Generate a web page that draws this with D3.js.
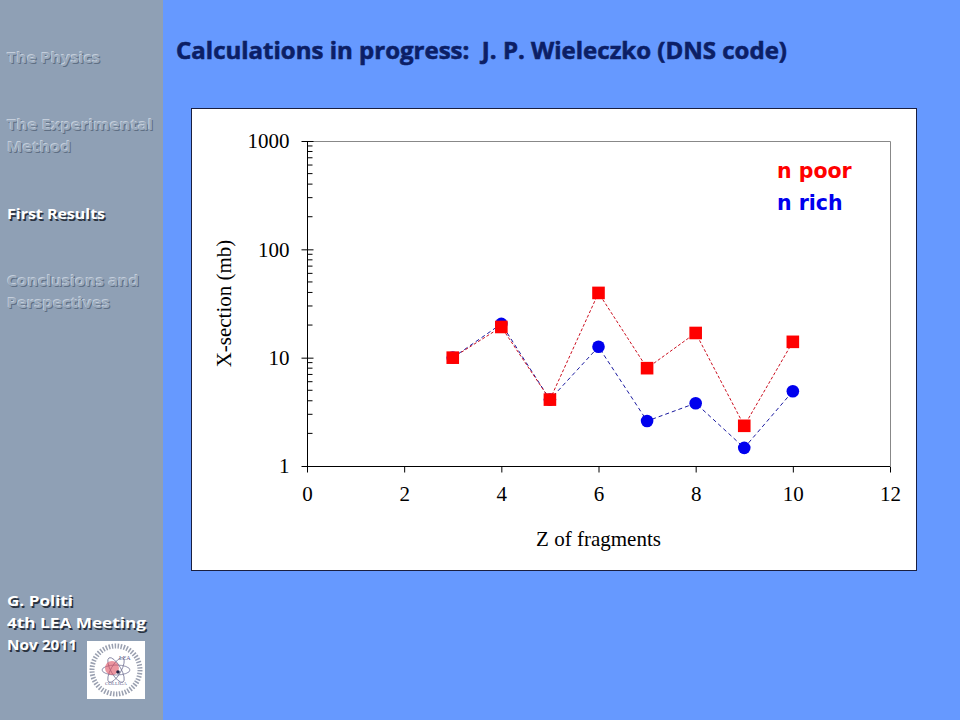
<!DOCTYPE html>
<html>
<head>
<meta charset="utf-8">
<script src="https://cdn.jsdelivr.net/npm/d3@7"></script>
<style>
  html, body { margin: 0; padding: 0; background: #6699ff; }
  svg { display: block; }
  text { white-space: pre; }
</style>
</head>
<body>
<svg id="slide" width="960" height="720"></svg>
<script>
// values
const zValues = [3, 4, 5, 6, 7, 8, 9, 10];
const nPoor = [10, 19.2, 4.1, 39.6, 8.0, 16.9, 2.35, 14.0];
const nRich = [10, 20.5, 4.1, 12.6, 2.6, 3.8, 1.47, 4.9];
const xTicks = [0, 2, 4, 6, 8, 10, 12];
const yTicks = [1, 10, 100, 1000];
const menuItems = [["The Physics"], ["The Experimental", "Method"], ["First Results"], ["Conclusions and", "Perspectives"]];
const footerLines = ["G. Politi", "4th LEA Meeting", "Nov 2011"];

const svg = d3.select("#slide");

// sidebar
svg.append("rect").attr("x", 0).attr("y", 0).attr("width", 163).attr("height", 720).attr("fill", "#8fa0b5");

const menuY = [58, 125, 214, 281];
const menuWidths = [[93], [146, 64], [98], [132, 103]];
const sideFont = (g) => g.attr("font-family", "Open Sans, sans-serif").attr("font-weight", "bold").attr("font-size", 15);

menuItems.forEach((lines, i) => {
  lines.forEach((line, j) => {
    const y = menuY[i] + j * 22 + 5;
    const w = menuWidths[i][j];
    const t = sideFont(svg.append("g"));
    const put = (dx, dy, c) => t.append("text").attr("x", 7 + dx).attr("y", y + dy).attr("fill", c)
      .attr("textLength", w).attr("lengthAdjust", "spacingAndGlyphs").text(line);
    if (i === 2) {
      put(1.5, 1.5, "#2a3340");
      put(0, 0, "#ffffff");
    } else {
      put(1, 1, "#5f6f84");
      put(-0.8, -0.8, "#c4cedb");
      put(0, 0, "#9aaabd");
    }
  });
});

const footerWidths = [66, 139, 70];
footerLines.forEach((line, i) => {
  const y = 606 + i * 22;
  const g = sideFont(svg.append("g"));
  g.append("text").attr("x", 8.5).attr("y", y + 1.5).attr("fill", "#2a3340")
    .attr("textLength", footerWidths[i]).attr("lengthAdjust", "spacingAndGlyphs").text(line);
  g.append("text").attr("x", 7).attr("y", y).attr("fill", "#ffffff")
    .attr("textLength", footerWidths[i]).attr("lengthAdjust", "spacingAndGlyphs").text(line);
});

// logo
const logo = svg.append("g").attr("transform", "translate(116,670)");
logo.append("rect").attr("x", -29).attr("y", -29).attr("width", 58).attr("height", 58).attr("fill", "#ffffff");
logo.append("circle").attr("r", 24).attr("fill", "none").attr("stroke", "#9aa0b0").attr("stroke-width", 5).attr("stroke-dasharray", "1.5,1.5");
[0, 60, 120].forEach(a => {
  logo.append("ellipse").attr("rx", 14).attr("ry", 5).attr("transform", `rotate(${a})`)
    .attr("fill", "none").attr("stroke", "#7a7a9a").attr("stroke-width", 0.8);
});
logo.append("circle").attr("cx", -4).attr("cy", -2).attr("r", 7).attr("fill", "#e05060").attr("opacity", 0.6);
logo.append("circle").attr("cx", 2).attr("cy", 2).attr("r", 1.8).attr("fill", "#202040");
logo.append("text").attr("x", 3).attr("y", -10).attr("font-size", 6).attr("font-family", "Liberation Serif, serif").attr("fill", "#606090").text("LEA");
logo.append("text").attr("x", 0).attr("y", 15).attr("text-anchor", "middle").attr("font-size", 5).attr("font-family", "Liberation Serif, serif").attr("fill", "#606090").text("COLLIGA");

// title
svg.append("text").attr("x", 176).attr("y", 59)
  .attr("font-family", "Open Sans, sans-serif").attr("font-weight", "bold").attr("font-size", 24)
  .attr("fill", "#0c1f66").attr("stroke", "#0c1f66").attr("stroke-width", 0.6)
  .attr("textLength", 611).attr("lengthAdjust", "spacingAndGlyphs")
  .text("Calculations in progress:  J. P. Wieleczko (DNS code)");

// chart box
svg.append("rect").attr("x", 191.5).attr("y", 108.5).attr("width", 725).attr("height", 462)
  .attr("fill", "#ffffff").attr("stroke", "#1a1f40").attr("stroke-width", 1);

const plot = { left: 307, right: 890, top: 141, bottom: 466 };
const x = d3.scaleLinear().domain([0, 12]).range([plot.left, plot.right]);
const y = d3.scaleLog().domain([1, 1000]).range([plot.bottom, plot.top]);

// plot frame (top/right grey)
svg.append("path")
  .attr("d", `M${plot.left},${plot.top + 0.5}H${plot.right + 0.5}V${plot.bottom}`)
  .attr("fill", "none").attr("stroke", "#888888").attr("stroke-width", 1);

// x axis
const xAxis = svg.append("g").attr("transform", `translate(0,${plot.bottom + 0.5})`)
  .call(d3.axisBottom(x).tickValues(xTicks).tickSize(6).tickPadding(14).tickFormat(d3.format("d")));
xAxis.select(".domain").attr("d", `M${plot.left},0H${plot.right}`).attr("stroke", "#000");
xAxis.selectAll("text").attr("font-family", "Liberation Serif, serif").attr("font-size", 21).attr("fill", "#000");

// y axis
const minor = [];
for (let d = 1; d < 1000; d *= 10) for (let k = 2; k <= 9; k++) minor.push(d * k);
const yAxis = svg.append("g").attr("transform", `translate(${plot.left + 0.5},0)`)
  .call(d3.axisLeft(y).tickValues(yTicks).tickSize(6).tickPadding(12).tickFormat(d3.format("d")));
yAxis.select(".domain").attr("d", `M0,${plot.top}V${plot.bottom}`).attr("stroke", "#000");
yAxis.selectAll("text").attr("font-family", "Liberation Serif, serif").attr("font-size", 21).attr("fill", "#000");
yAxis.selectAll(".tick line").attr("x2", 6).attr("x1", -6);
yAxis.selectAll(".minor").data(minor).join("line").attr("class", "minor")
  .attr("x1", 0).attr("x2", 5).attr("y1", d => y(d)).attr("y2", d => y(d))
  .attr("stroke", "#000").attr("stroke-width", 1);

// axis titles
svg.append("text").attr("x", (plot.left + plot.right) / 2).attr("y", 546).attr("text-anchor", "middle")
  .attr("font-family", "Liberation Serif, serif").attr("font-size", 21).text("Z of fragments");
svg.append("text").attr("transform", `translate(231,${(plot.top + plot.bottom) / 2}) rotate(-90)`).attr("text-anchor", "middle")
  .attr("font-family", "Liberation Serif, serif").attr("font-size", 21).text("X-section (mb)");

// series
const line = d3.line().x(d => x(d[0])).y(d => y(d[1]));
const rich = zValues.map((z, i) => [z, nRich[i]]);
const poor = zValues.map((z, i) => [z, nPoor[i]]);

svg.append("path").datum(rich).attr("d", line).attr("fill", "none")
  .attr("stroke", "#1a1aa0").attr("stroke-width", 1).attr("stroke-dasharray", "4,3");
svg.selectAll(".rich").data(rich).join("circle").attr("class", "rich")
  .attr("cx", d => x(d[0])).attr("cy", d => y(d[1])).attr("r", 6.3).attr("fill", "#0000ee");

svg.append("path").datum(poor).attr("d", line).attr("fill", "none")
  .attr("stroke", "#cc1020").attr("stroke-width", 1).attr("stroke-dasharray", "3,2");
svg.selectAll(".poor").data(poor).join("rect").attr("class", "poor")
  .attr("x", d => x(d[0]) - 6.3).attr("y", d => y(d[1]) - 6.3).attr("width", 12.6).attr("height", 12.6).attr("fill", "#ff0000");

// legend labels
svg.append("text").attr("x", 777).attr("y", 178).attr("font-family", "DejaVu Sans, sans-serif").attr("font-weight", "bold")
  .attr("font-size", 20.5).attr("fill", "#ff0000").text("n poor");
svg.append("text").attr("x", 777).attr("y", 210).attr("font-family", "DejaVu Sans, sans-serif").attr("font-weight", "bold")
  .attr("font-size", 20.5).attr("fill", "#0000ee").text("n rich");
</script>
</body>
</html>
